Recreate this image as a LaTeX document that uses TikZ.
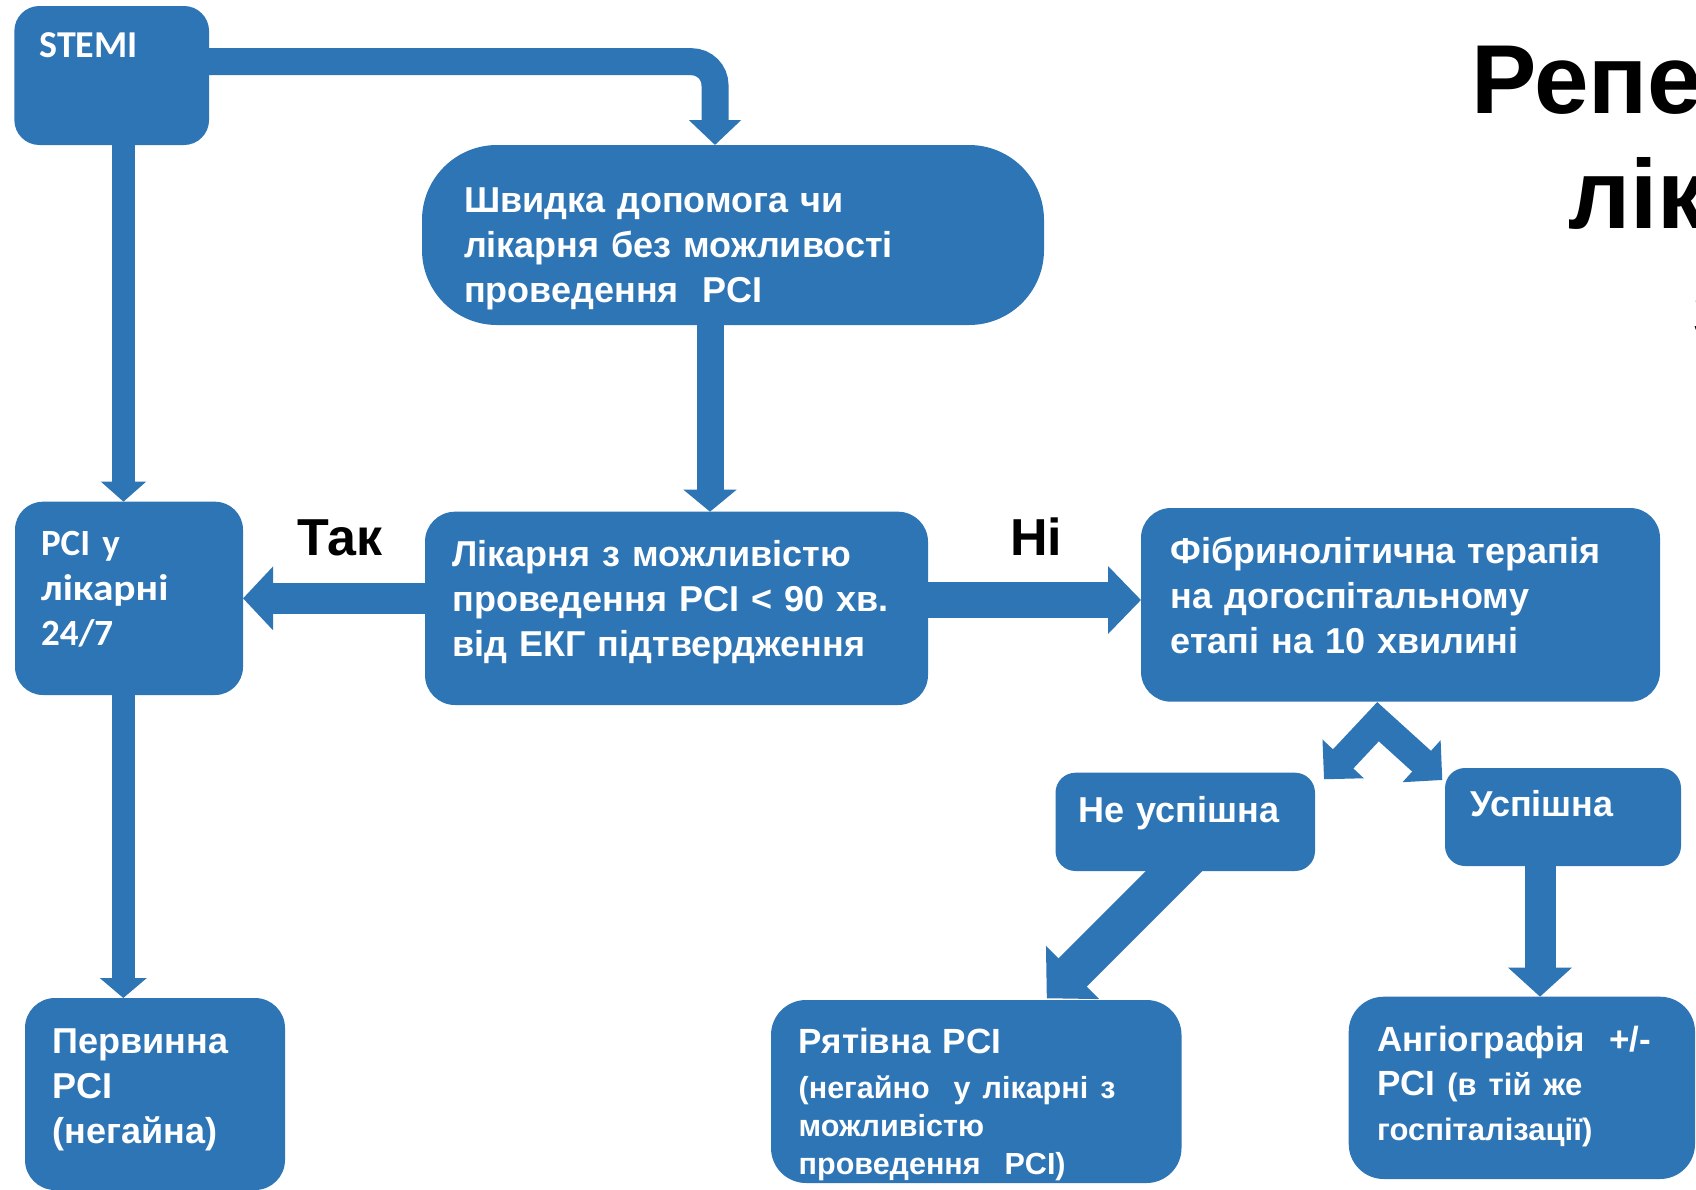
\documentclass[tikz,border=0pt]{standalone}
\usepackage{fontspec}
\usetikzlibrary{arrows.meta}
\newfontfamily\arialf{Liberation Sans}
\newfontfamily\calibf{Carlito}
\definecolor{myblue}{RGB}{46,117,182}
\pgfdeclarelayer{bg}
\pgfsetlayers{bg,main}
\begin{document}
\begin{tikzpicture}[x=1pt,y=1pt,
  box/.style={fill=myblue, draw=none, inner sep=0pt, outer sep=0pt, rounded corners=#1},
  box/.default=28pt,
  tx/.style={anchor=base west, inner sep=0pt, outer sep=0pt, text=white, align=left, text width=700pt, font=\arialf\bfseries\fontsize{36}{45}\selectfont},
  ctx/.style={tx, font=\calibf\bfseries\fontsize{37}{45}\selectfont},
  lbl/.style={anchor=base west, inner sep=0pt, outer sep=0pt, text=black, font=\arialf\bfseries\fontsize{52}{60}\selectfont},
  ttl/.style={anchor=base west, inner sep=0pt, outer sep=0pt, text=black, font=\arialf\bfseries\fontsize{98}{115}\selectfont},
  fat/.style n args={3}{draw=myblue, line width=#1, -{Triangle[width=#2,length=#3]}},
]
\useasboundingbox (0,0) rectangle (1696,-1189);
\clip (0,0) rectangle (1696,-1189);

% boxes
\node[box=25pt, minimum width=194.7pt, minimum height=139pt] (stemi) at (111.7,-75.5) {};
\node[box=75pt, minimum width=622pt, minimum height=180pt] (shv) at (733,-235) {};
\node[box=28pt, minimum width=228pt, minimum height=193.3pt] (pci) at (129,-598.35) {};
\node[box=30pt, minimum width=503pt, minimum height=193.3pt] (lik) at (676.5,-608.35) {};
\node[box=30pt, minimum width=519pt, minimum height=193.7pt] (fib) at (1400.5,-604.85) {};
\node[box=20pt, minimum width=259.5pt, minimum height=98.3pt] (nu) at (1185.25,-821.85) {};
\node[box=20pt, minimum width=236pt, minimum height=98pt] (usp) at (1563,-817) {};
\node[box=30pt, minimum width=260pt, minimum height=192pt] (perv) at (155,-1094) {};
\node[box=35pt, minimum width=410.5pt, minimum height=183pt] (rat) at (976.25,-1091.5) {};
\node[box=35pt, minimum width=346.3pt, minimum height=182.3pt] (ang) at (1521.85,-1087.85) {};

% texts
\node[ctx, font=\calibf\bfseries\fontsize{38}{45}\selectfont] (stemit) at (39.5,-57.3) {STEMI};
\node[tx] (shvt) at (464,-212.7) {Швидка допомога чи\\лікарня без можливості\\проведення\ \ PCI};
\node[ctx] (pcit) at (41,-555) {PCI у\\\scalebox{1.12}[1]{лікарні}\\24/7};
\node[tx] (likt) at (452.4,-566.7) {Лікарня з можливістю\\проведення PCI < 90 хв.\\від ЕКГ підтвердження};
\node[tx] (fibt) at (1170.5,-563.3) {Фібринолітична терапія\\на догоспітальному\\етапі на 10 хвилині};
\node[tx] (nut) at (1078.4,-822.7) {Не успішна};
\node[tx] (uspt) at (1470,-816.7) {Успішна};
\node[tx] (pervt) at (52.4,-1053.3) {Первинна\\PCI\\(негайна)};
\node[tx] (ratt) at (798.7,-1053.3) {\fontsize{35}{45}\selectfont Рятівна PCI\\[7pt]\fontsize{30.5}{38.2}\selectfont (негайно\ \ у лікарні з\\можливістю\\проведення\ \ PCI)\par};
\node[tx] (angt) at (1377,-1051.7) {\fontsize{35}{44}\selectfont Ангіографія\ \ +/-\\PCI {\fontsize{31}{44}\selectfont (в тій же}\\\fontsize{31}{44.5}\selectfont госпіталізації)\par};

% labels
\node[lbl] (tak) at (297,-555) {Так};
\node[lbl] (ni) at (1010,-555) {Ні};

% title (cut off at the right edge)
\node[ttl] (t1) at (1471,-113.3) {Репе};
\node[ttl] (t2) at (1568,-228.3) {лік};
\node[ttl] (t3) at (1692,-340) {з};

% connectors
\coordinate (apex) at ([xshift=-22.5pt,yshift=-20pt]fib.south);
\coordinate (tipL) at ([xshift=9pt,yshift=-6.6pt]nu.north east);
\coordinate (tipR) at ([xshift=-2.7pt,yshift=-12pt]usp.north west);
\begin{pgfonlayer}{bg}
\draw[fat={27pt}{51pt}{25pt}, rounded corners=23.5pt] ([yshift=13.8pt]stemi.east) -| ([xshift=-18pt]shv.north);
\draw[fat={23pt}{44pt}{20pt}] ([xshift=11.8pt]stemi.south) -- ([xshift=11.8pt]stemi.south |- pci.north);
\draw[fat={27pt}{52pt}{22pt}] ([xshift=-23pt]shv.south) -- ([xshift=-23pt]shv.south |- lik.north);
\draw[fat={31pt}{62pt}{30pt}] (lik.west |- pci.east) -- (pci.east);
\draw[fat={36pt}{66pt}{33pt}] ([yshift=8.35pt]lik.east) -- ([yshift=8.35pt]lik.east -| fib.west);
\draw[draw=myblue, line width=28pt, line join=miter, {Triangle[width=55pt,length=28pt]}-{Triangle[width=55pt,length=28pt]}] (tipL) -- (apex) -- (tipR);
\draw[fat={40pt}{73pt}{36.5pt}] ([xshift=9.75pt,yshift=21pt]nu.south) -- ([xshift=70.5pt,yshift=1.7pt]rat.north);
\draw[fat={31pt}{62pt}{29pt}] ([xshift=-23pt]usp.south) -- ([xshift=-23pt]usp.south |- ang.north);
\draw[fat={23pt}{46pt}{20pt}] ([xshift=-5.7pt]pci.south) -- ([xshift=-5.7pt]pci.south |- perv.north);
\end{pgfonlayer}
\end{tikzpicture}
\end{document}
